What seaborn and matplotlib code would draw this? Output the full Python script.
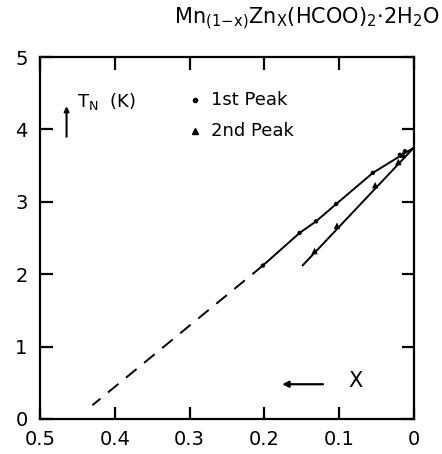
import numpy as np
import seaborn as sns
import matplotlib
matplotlib.use("Agg")
import matplotlib.pyplot as plt

# Neel temperature vs Zn concentration x
x_peak1 = [0.202, 0.153, 0.131, 0.104, 0.055, 0.019, 0.012]
tn_peak1 = [2.12, 2.57, 2.73, 2.97, 3.40, 3.65, 3.70]
x_peak2 = [0.133, 0.103, 0.052, 0.021, 0.015]
tn_peak2 = [2.32, 2.67, 3.23, 3.55, 3.65]

# guide lines drawn by hand in the original
line1_x = [0.202, 0.153, 0.131, 0.104, 0.055, 0.0]
line1_y = [2.12, 2.57, 2.73, 2.97, 3.40, 3.75]
line2_x = [0.149, 0.0]
line2_y = [2.12, 3.75]
dash_x = [0.202, 0.43]
dash_y = [2.12, 0.19]

x_ticks = [0.5, 0.4, 0.3, 0.2, 0.1, 0.0]
x_labels = ["0.5", "0.4", "0.3", "0.2", "0.1", "0"]
y_ticks = [0, 1, 2, 3, 4, 5]
y_labels = ["0", "1", "2", "3", "4", "5"]

sns.set_theme(style="ticks")
plt.rcParams["font.family"] = ["DejaVu Sans"]
plt.rcParams["text.color"] = "black"

fig = plt.figure(figsize=(4.42, 4.54), dpi=100)
ax = fig.add_axes([0.0905, 0.0771, 0.8462, 0.7973])

sns.lineplot(x=line1_x, y=line1_y, ax=ax, color="black", lw=1.4, sort=False)
sns.lineplot(x=line2_x, y=line2_y, ax=ax, color="black", lw=1.4, sort=False)
ax.plot(dash_x, dash_y, color="black", lw=1.4, dashes=(7, 5))
sns.scatterplot(x=x_peak1, y=tn_peak1, ax=ax, color="black", marker="o", s=10, edgecolor="none")
sns.scatterplot(x=x_peak2, y=tn_peak2, ax=ax, color="black", marker="^", s=22, edgecolor="none")

ax.set_xlim(0.5, 0.0)
ax.set_ylim(0, 5)
ax.set_xticks(x_ticks)
ax.set_xticklabels(x_labels)
ax.set_yticks(y_ticks)
ax.set_yticklabels(y_labels)
ax.tick_params(direction="in", length=9, width=1.6, labelsize=14, colors="black",
               top=True, right=True)
ax.tick_params(axis="x", pad=8)
ax.tick_params(axis="y", pad=9)
for sp in ax.spines.values():
    sp.set_linewidth(1.6)
    sp.set_color("black")

# legend and labels written on the plot
ax.text(0.45, 4.38, r"$\mathrm{T_N}$  (K)", fontsize=13, va="center", ha="left")
ax.annotate("", xy=(0.4645, 4.36), xytext=(0.4645, 3.86),
            arrowprops=dict(arrowstyle="-|>", color="black", lw=1.5, mutation_scale=7))
ax.plot([0.293], [4.41], "o", color="black", ms=3)
ax.text(0.272, 4.41, "1st Peak", fontsize=13, va="center", ha="left")
ax.plot([0.293], [3.98], "^", color="black", ms=4.5)
ax.text(0.272, 3.98, "2nd Peak", fontsize=13, va="center", ha="left")
ax.annotate("", xy=(0.18, 0.48), xytext=(0.118, 0.48),
            arrowprops=dict(arrowstyle="-|>", color="black", lw=1.6, mutation_scale=9))
ax.text(0.088, 0.52, "X", fontsize=15, va="center", ha="left")

fig.text(0.995, 0.958, r"$\mathrm{Mn_{(1\!-\!x)}Zn_X(HCOO)_2{\cdot}2H_2O}$",
         fontsize=15, ha="right", va="center")

fig.savefig("out.png", dpi=100, facecolor="white")
